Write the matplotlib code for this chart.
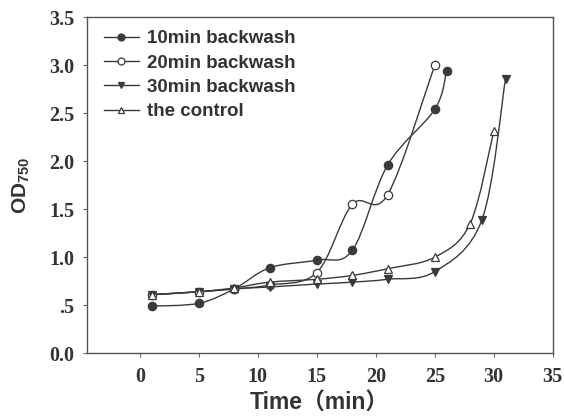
import matplotlib
matplotlib.use("Agg")
import matplotlib.pyplot as plt
from matplotlib.path import Path
from matplotlib.patches import PathPatch
from matplotlib.lines import Line2D

# Growth curves (OD750 vs time)
t_10 = [1, 5, 8, 11, 15, 18, 21, 25, 26]
od_10 = [0.49, 0.52, 0.67, 0.89, 0.97, 1.07, 1.96, 2.54, 2.94]

t_20 = [1, 5, 8, 11, 15, 18, 21, 25]
od_20 = [0.61, 0.64, 0.67, 0.71, 0.84, 1.55, 1.65, 3.00]

t_30 = [1, 5, 8, 11, 15, 18, 21, 25, 29, 31]
od_30 = [0.61, 0.64, 0.67, 0.69, 0.72, 0.74, 0.77, 0.85, 1.39, 2.86]

t_ctl = [1, 5, 8, 11, 15, 18, 21, 25, 28, 30]
od_ctl = [0.61, 0.64, 0.68, 0.74, 0.77, 0.81, 0.88, 1.00, 1.35, 2.31]

labels = ["10min backwash", "20min backwash", "30min backwash", "the control"]
x_ticks = [0, 5, 10, 15, 20, 25, 30, 35]
y_ticks = [0.0, 0.5, 1.0, 1.5, 2.0, 2.5, 3.0, 3.5]
y_ticklabels = ["0.0", ".5", "1.0", "1.5", "2.0", "2.5", "3.0", "3.5"]

INK = "#333333"
LINE = "#3a3a3a"

plt.rcParams["mathtext.fontset"] = "custom"
plt.rcParams["mathtext.rm"] = "Liberation Sans:bold"
plt.rcParams["mathtext.it"] = "Liberation Sans:bold"
plt.rcParams["mathtext.bf"] = "Liberation Sans:bold"

fig = plt.figure(figsize=(5.64, 4.18), dpi=100)
ax = fig.add_axes([0.154, 0.155, 0.826, 0.804])


def smooth_path(xs, ys):
    """Catmull-Rom curve through the points, expressed as cubic Bezier segments."""
    pts = list(zip(xs, ys))
    n = len(pts)
    verts = [pts[0]]
    codes = [Path.MOVETO]
    for i in range(n - 1):
        p0 = pts[i - 1] if i > 0 else pts[i]
        p1 = pts[i]
        p2 = pts[i + 1]
        p3 = pts[i + 2] if i + 2 < n else pts[i + 1]
        c1 = (p1[0] + (p2[0] - p0[0]) / 6.0, p1[1] + (p2[1] - p0[1]) / 6.0)
        c2 = (p2[0] - (p3[0] - p1[0]) / 6.0, p2[1] - (p3[1] - p1[1]) / 6.0)
        verts += [c1, c2, p2]
        codes += [Path.CURVE4] * 3
    return Path(verts, codes)


series = [
    (t_10, od_10, "o", LINE),
    (t_20, od_20, "o", "white"),
    (t_30, od_30, "v", LINE),
    (t_ctl, od_ctl, "^", "white"),
]

handles = []
for (xs, ys, mk, fc), lab in zip(series, labels):
    ax.add_patch(PathPatch(smooth_path(xs, ys), facecolor="none",
                           edgecolor=LINE, lw=1.0, zorder=2))
    ax.plot(xs, ys, linestyle="none", marker=mk, markersize=6,
            markerfacecolor=fc, markeredgecolor=LINE, markeredgewidth=0.9,
            zorder=3)
    handles.append(Line2D([], [], color=LINE, lw=1.0, marker=mk,
                          markersize=5, markerfacecolor=fc,
                          markeredgecolor=LINE, markeredgewidth=0.9))

ax.set_xlim(-4.5, 35)
ax.set_ylim(0, 3.5)
ax.set_xticks(x_ticks)
ax.set_yticks(y_ticks)
ax.set_yticklabels(y_ticklabels)

for lbl in ax.get_xticklabels() + ax.get_yticklabels():
    lbl.set_family("Liberation Serif")
    lbl.set_fontweight("bold")
    lbl.set_fontsize(14.5)
    lbl.set_color(INK)

ax.tick_params(direction="out", length=3, width=0.8, color="#666666",
               pad=6)
ax.tick_params(axis="x", pad=7)
for s in ax.spines.values():
    s.set_color("#555555")
    s.set_linewidth(1.0)

ax.set_xlabel("Time（min）", family=["Liberation Sans", "Noto Sans CJK SC"],
              fontweight="bold", fontsize=16.5, color=INK, labelpad=3)
ax.set_ylabel(r"$\mathrm{OD}_{750}$", fontsize=15, color=INK, labelpad=12)

leg = ax.legend(handles, labels, loc="upper left", frameon=False,
                prop={"family": "Liberation Sans", "weight": "bold", "size": 13.5},
                handlelength=1.9, handletextpad=0.43, labelspacing=0.39,
                borderaxespad=0.0, bbox_to_anchor=(0.02, 0.984))
for txt in leg.get_texts():
    txt.set_color(INK)

fig.savefig("out.png", dpi=100)
